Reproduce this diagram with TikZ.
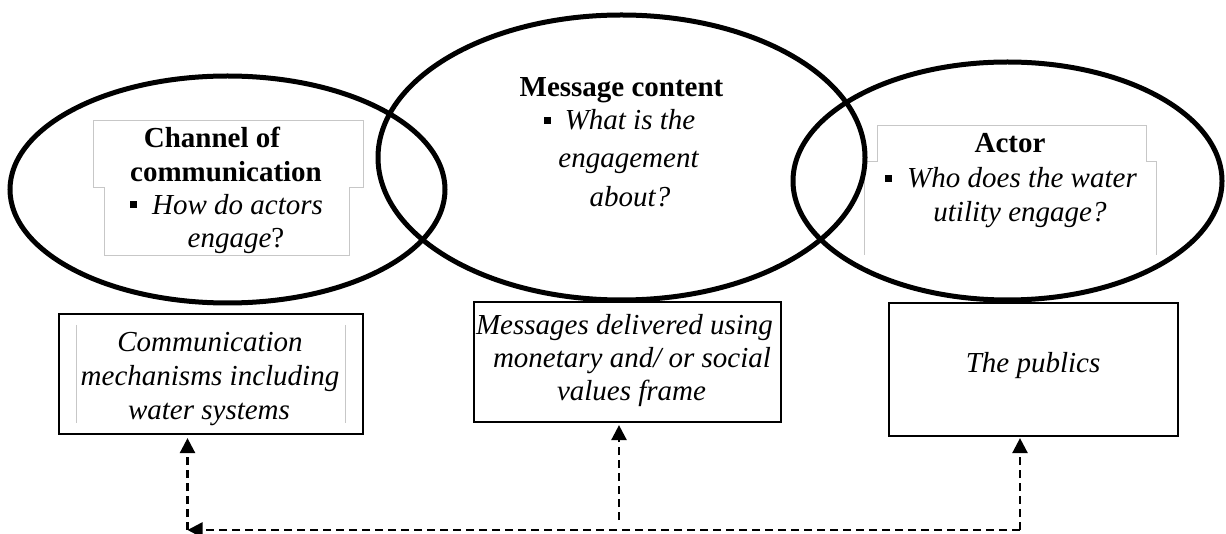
\documentclass[tikz,border=0pt]{standalone}
\usepackage{fontspec}
\setmainfont{Liberation Serif}
\usetikzlibrary{shapes.geometric,arrows.meta}
\begin{document}
\begin{tikzpicture}[x=1pt,y=-1pt,
  headtxt/.style={font=\fontsize{29}{33}\selectfont\bfseries, anchor=base, inner sep=0pt},
  itemtxt/.style={font=\fontsize{29}{33}\selectfont\itshape, anchor=base, inner sep=0pt},
  bulletsq/.style={fill=black, minimum size=7pt, inner sep=0pt},
  oval/.style={ellipse, draw, line width=5pt, inner sep=0pt},
  textframe/.style={draw=black!22, line width=1pt},
  boxstyle/.style={draw, line width=2.2pt, inner sep=0pt},
  link/.style={dash pattern=on 8pt off 5pt, line width=2.5pt},
  arrowtip/.style={-{Triangle[width=15pt,length=15pt]}}
]
\useasboundingbox (0,0) rectangle (1226,534);

% faint text-box frames
\draw[textframe] (93,121) -- (363,121) -- (363,188) -- (349,188) -- (349,256) -- (104,256) -- (104,188) -- (93,188) -- cycle;
\draw[textframe] (864,255) -- (864,162) -- (877,162) -- (877,126) -- (1146,126) -- (1146,162) -- (1156,162) -- (1156,255);
\draw[textframe] (76,325) -- (76,423);
\draw[textframe] (345,325) -- (345,423);

% ellipses
\node[oval, minimum width=435pt, minimum height=227pt] (e1) at (227.5,189.5) {};
\node[oval, minimum width=487pt, minimum height=285pt] (e2) at (621.5,157.5) {};
\node[oval, minimum width=429pt, minimum height=238pt] (e3) at (1007.5,181) {};

% left ellipse text
\node[headtxt] (t1a) at (212,148) {Channel of};
\node[headtxt] (t1b) at (226,182) {communication};
\node[bulletsq] (b1) at (133.5,205) {};
\node[itemtxt] (t1c) at (237.5,215) {How do actors};
\node[itemtxt] (t1d) at (236,248) {engage\upshape ?};

% middle ellipse text
\node[headtxt] (t2a) at (621.5,97) {Message content};
\node[bulletsq] (b2) at (547,120.5) {};
\node[itemtxt] (t2b) at (630,130) {What is the};
\node[itemtxt] (t2c) at (628.5,168) {engagement};
\node[itemtxt] (t2d) at (630,207) {about?};

% right ellipse text
\node[headtxt] (t3a) at (1010,153) {Actor};
\node[bulletsq] (b3) at (888,178.5) {};
\node[itemtxt] (t3b) at (1022,188) {Who does the water};
\node[itemtxt] (t3c) at (1020,222) {utility engage?};

% boxes
\node[boxstyle, minimum width=304pt, minimum height=120pt] (box1) at (211,374) {};
\node[itemtxt] (x1a) at (210,352) {Communication};
\node[itemtxt] (x1b) at (210,386) {mechanisms including};
\node[itemtxt] (x1c) at (209,419) {water systems};

\node[boxstyle, minimum width=307pt, minimum height=120pt] (box2) at (627.5,362) {};
\node[itemtxt] (x2a) at (624.5,335) {Messages delivered using};
\node[itemtxt] (x2b) at (632,368) {monetary and/ or social};
\node[itemtxt] (x2c) at (631.5,400) {values frame};

\node[boxstyle, minimum width=289pt, minimum height=133pt] (box3) at (1033.5,369.5) {};
\node[itemtxt] (x3a) at (1033,373) {The publics};

% connectors
\coordinate (cL) at (187.5,530);
\coordinate (cM) at (619,520);
\coordinate (cR) at (1020,530);
\draw[link,arrowtip] (cR) -- (cL);
\draw[link,arrowtip,shorten >=3pt] (cL) -- (cL |- box1.south);
\draw[link,arrowtip,shorten >=2pt] (cM) -- (cM |- box2.south);
\draw[link,arrowtip,shorten >=1pt] (cR) -- (cR |- box3.south);
\end{tikzpicture}
\end{document}
